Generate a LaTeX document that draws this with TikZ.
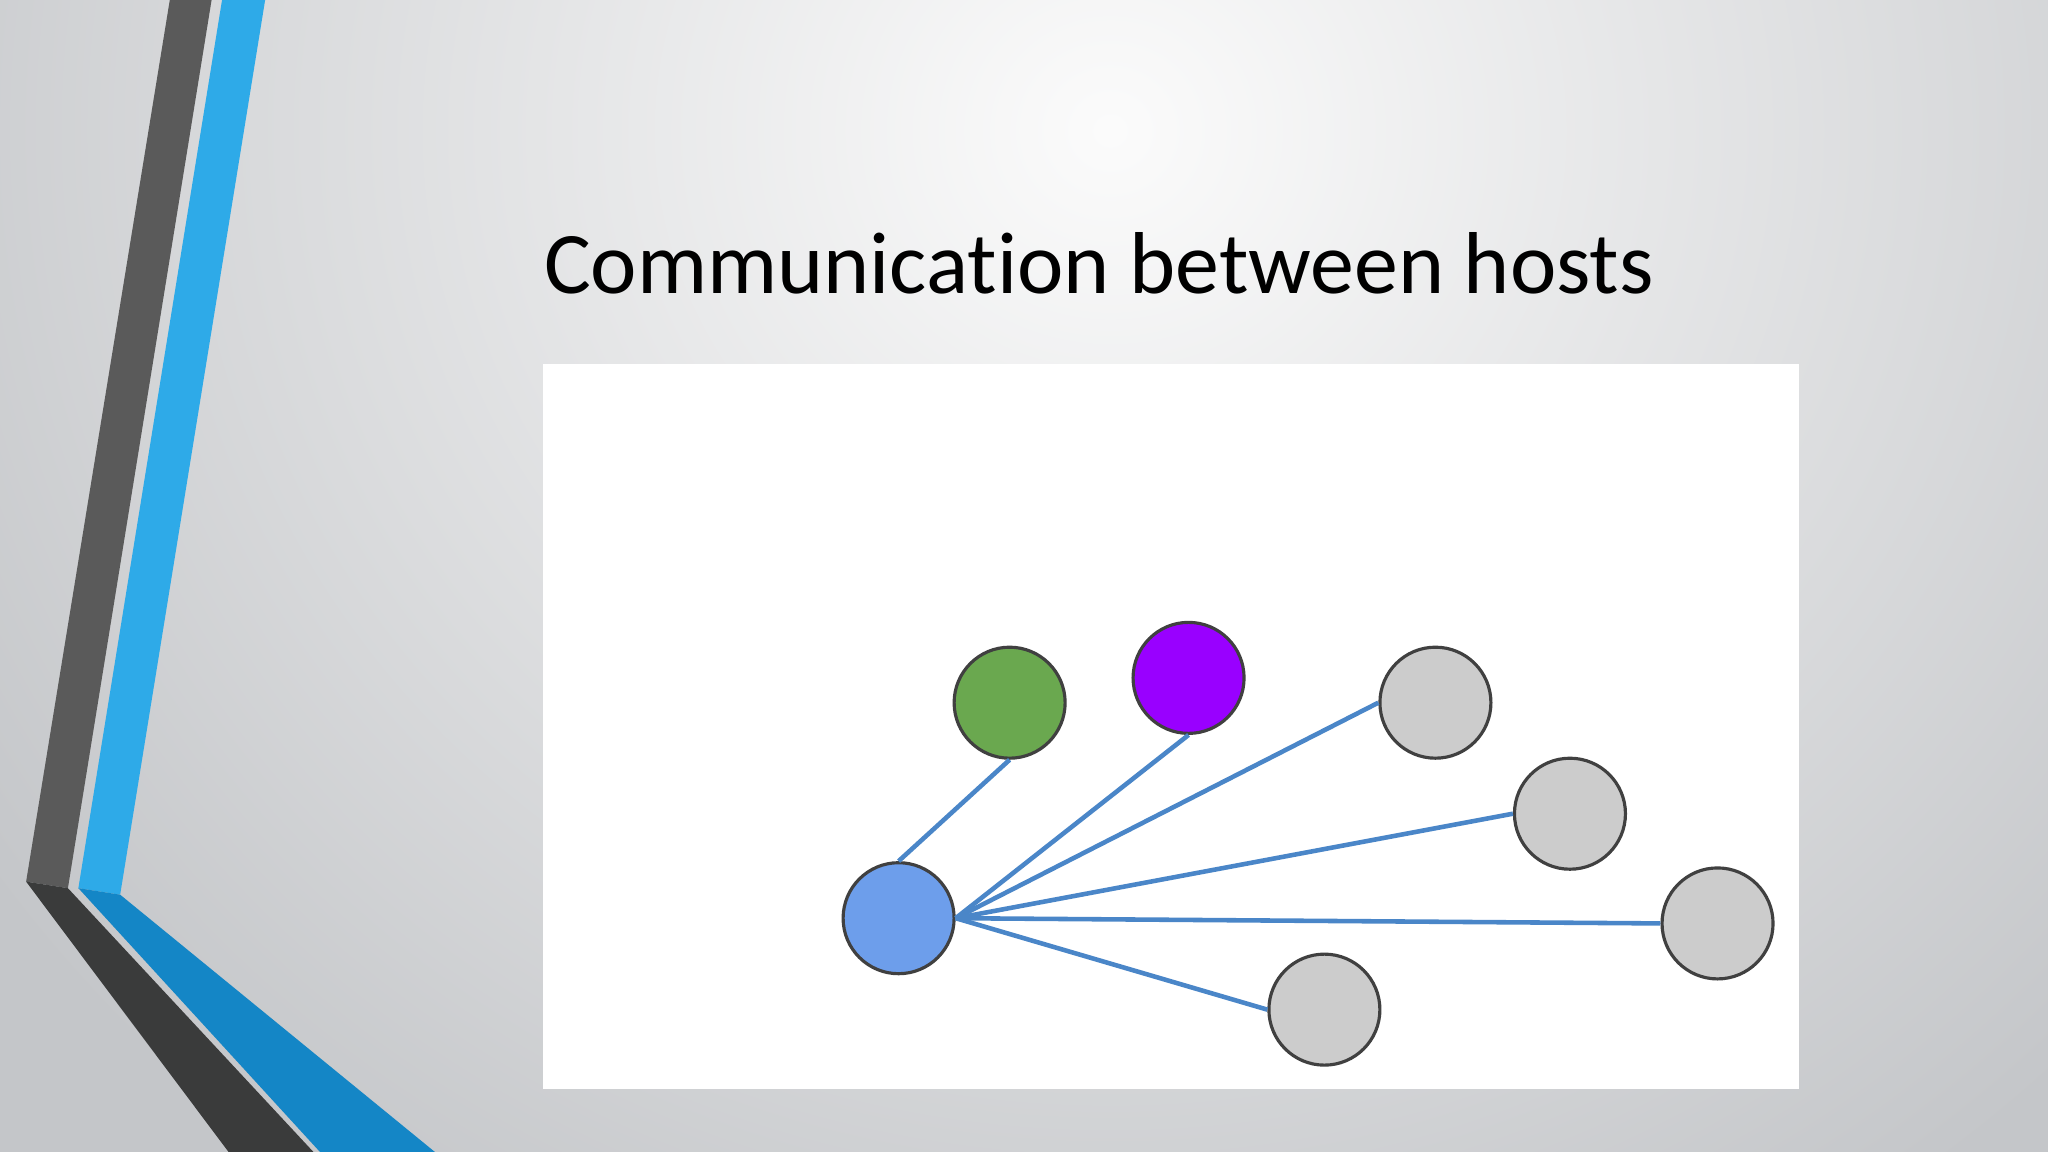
\documentclass[tikz,border=0pt]{standalone}
\usepackage{fontspec}
\setmainfont{Carlito}[Ligatures=NoCommon]
\definecolor{dkA}{HTML}{5A5A5A}
\definecolor{dkB}{HTML}{3A3B3B}
\definecolor{blA}{HTML}{2EAAE8}
\definecolor{blB}{HTML}{1486C6}
\definecolor{edge}{HTML}{4A86C8}
\definecolor{cgreen}{HTML}{6AA84F}
\definecolor{cpurple}{HTML}{9900FF}
\definecolor{cgrey}{HTML}{CCCCCC}
\definecolor{cblue}{HTML}{6D9EEB}
\definecolor{bgout}{HTML}{C4C6C9}
\begin{document}
\begin{tikzpicture}[x=0.0130612cm,y=-0.0130612cm,
  host/.style={circle,draw=black!75,line width=0.9pt,minimum size=1.11cm,inner sep=0pt},
  link/.style={edge,line width=1.3pt}]
\useasboundingbox (0,0) rectangle (1568,882);
\fill[bgout] (0,0) rectangle (1568,882);
\shade[inner color=white!97!gray,outer color=bgout] (-200,-900) rectangle (1900,1100);
% left decoration
\fill[dkA] (130,0) -- (162,0) -- (52,680) -- (20,675) -- cycle;
\fill[dkB] (20,675) -- (52,680) -- (240,882) -- (175,882) -- cycle;
\fill[blA] (170,0) -- (203,0) -- (92,685) -- (60,680) -- cycle;
\fill[blB] (60,680) -- (92,685) -- (333,882) -- (245,882) -- cycle;
% title
\node[anchor=base west,inner sep=0pt,font=\fontsize{25}{30}\selectfont] (title) at (416,225) {Communication between hosts};
% panel
\fill[white] (416,279) rectangle (1377,834);
\node[host,fill=cblue] (b) at (688,703) {};
\node[host,fill=cgreen] (g) at (773,538) {};
\node[host,fill=cpurple] (p) at (910,519) {};
\node[host,fill=cgrey] (h1) at (1099,538) {};
\node[host,fill=cgrey] (h2) at (1202,623) {};
\node[host,fill=cgrey] (h3) at (1315,707) {};
\node[host,fill=cgrey] (h4) at (1014,773) {};
\draw[link] (b.north) -- (g.south);
\draw[link] (b.east) -- (p.south);
\draw[link] (b.east) -- (h1.west);
\draw[link] (b.east) -- (h2.west);
\draw[link] (b.east) -- (h3.west);
\draw[link] (b.east) -- (h4.west);
\end{tikzpicture}
\end{document}
